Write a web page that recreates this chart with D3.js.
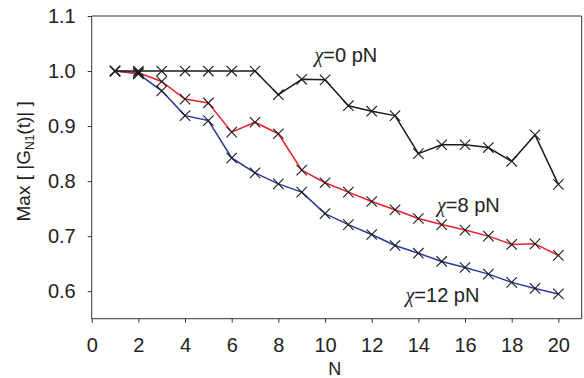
<!DOCTYPE html>
<html>
<head>
<meta charset="utf-8">
<script src="https://cdn.jsdelivr.net/npm/d3@7"></script>
<style>
  html, body { margin: 0; padding: 0; background: #fff; }
  svg { display: block; font-family: "Liberation Sans", Arial, sans-serif; }
</style>
</head>
<body>
<svg id="chart" width="584" height="378"></svg>
<script>
// ---- data ----
const nValues = [1,2,3,4,5,6,7,8,9,10,11,12,13,14,15,16,17,18,19,20];
const chi0  = [1.000,1.000,1.000,1.000,1.000,1.000,1.000,0.957,0.985,0.984,0.937,0.927,0.919,0.850,0.866,0.866,0.861,0.836,0.884,0.794];
const chi8  = [1.000,0.997,0.981,0.949,0.942,0.889,0.907,0.886,0.820,0.797,0.780,0.763,0.748,0.732,0.721,0.711,0.700,0.685,0.686,0.665];
const chi12 = [1.000,0.995,0.964,0.919,0.910,0.842,0.815,0.795,0.780,0.741,0.721,0.703,0.683,0.669,0.654,0.643,0.631,0.616,0.605,0.595];
const xTicks = [0,2,4,6,8,10,12,14,16,18,20];
const yTicks = [0.6,0.7,0.8,0.9,1.0,1.1];
const seriesLabels = ["χ=0 pN", "χ=8 pN", "χ=12 pN"];

// ---- layout ----
const W = 584, H = 378;
const margin = {top: 16, right: 2.3, bottom: 59.3, left: 91.7};
const svg = d3.select("#chart");
const x = d3.scaleLinear().domain([0, 21]).range([margin.left, W - margin.right]);
const y = d3.scaleLinear().domain([0.55, 1.1]).range([H - margin.bottom, margin.top]);

const axisColor = "#333";
const fontSize = 20;
const fontFamily = '"Liberation Sans", Arial, sans-serif';

// frame (top/right)
svg.append("line").attr("x1", x(0)).attr("x2", x(21)).attr("y1", y(1.1)).attr("y2", y(1.1))
  .attr("stroke", axisColor).attr("stroke-width", 1);
svg.append("line").attr("x1", x(21)).attr("x2", x(21)).attr("y1", y(1.1)).attr("y2", y(0.55))
  .attr("stroke", axisColor).attr("stroke-width", 1);

// axes
const xAxis = svg.append("g").attr("transform", `translate(0,${y(0.55)})`)
  .call(d3.axisBottom(x).tickValues(xTicks).tickFormat(d3.format("d")).tickSizeOuter(0).tickSize(4).tickPadding(15));
const yAxis = svg.append("g").attr("transform", `translate(${x(0)},0)`)
  .call(d3.axisLeft(y).tickValues(yTicks).tickFormat(d3.format(".1f")).tickSizeOuter(0).tickSize(4).tickPadding(12));
[xAxis, yAxis].forEach(g => {
  g.select(".domain").attr("stroke", axisColor).attr("stroke-width", 1);
  g.selectAll(".tick line").attr("stroke", axisColor);
  g.selectAll(".tick text").attr("fill", "#222").style("font-size", fontSize + "px")
    .style("font-family", fontFamily);
});
xAxis.select(".domain").attr("d", `M${x(0)},0H${x(21)}`);
yAxis.select(".domain").attr("d", `M0,${y(1.1)}V${y(0.55)}`);

// axis titles
svg.append("text").attr("x", (x(0) + x(21)) / 2 - 2).attr("y", 375)
  .attr("text-anchor", "middle").attr("fill", "#222").style("font-size", "18px").text("N");

const yl = svg.append("text").attr("transform", `translate(30,${(y(1.1) + y(0.55)) / 2 - 6}) rotate(-90)`)
  .attr("text-anchor", "middle").attr("fill", "#222").style("font-size", "19px");
yl.append("tspan").text("Max [ |G");
yl.append("tspan").attr("dy", 4).style("font-size", "12px").text("N1");
yl.append("tspan").attr("dy", -4).text("(t)| ]");

// lines
const seriesList = [
  {vals: chi12, color: "#2b3a9c"},
  {vals: chi8,  color: "#e8202a"},
  {vals: chi0,  color: "#1a1a1a"}
];
const line = d3.line().x((d, i) => x(nValues[i])).y(d => y(d));
seriesList.forEach(s => {
  svg.append("path").datum(s.vals).attr("d", line)
    .attr("fill", "none").attr("stroke", s.color).attr("stroke-width", 1.5)
    .attr("stroke-linejoin", "round");
});

// markers (× symbols, black)
const r = 5.2;
seriesList.forEach(s => {
  svg.append("g").selectAll("path").data(s.vals).join("path")
    .attr("d", (d, i) => {
      const cx = x(nValues[i]), cy = y(d);
      return `M${cx - r},${cy - r}L${cx + r},${cy + r}M${cx - r},${cy + r}L${cx + r},${cy - r}`;
    })
    .attr("stroke", "#1a1a1a").attr("stroke-width", 1.1).attr("fill", "none");
});

// annotations
const labelPos = [[9.55, 1.017], [14.8, 0.7445], [13.45, 0.581]];
seriesLabels.forEach((t, i) => {
  const txt = svg.append("text").attr("x", x(labelPos[i][0])).attr("y", y(labelPos[i][1]))
    .attr("fill", "#222").style("font-size", fontSize + "px");
  txt.append("tspan").style("font-family", '"Liberation Serif", "DejaVu Serif", serif')
    .style("font-style", "italic").text(t.slice(0, 1));
  txt.append("tspan").text(t.slice(1));
});
</script>
</body>
</html>
